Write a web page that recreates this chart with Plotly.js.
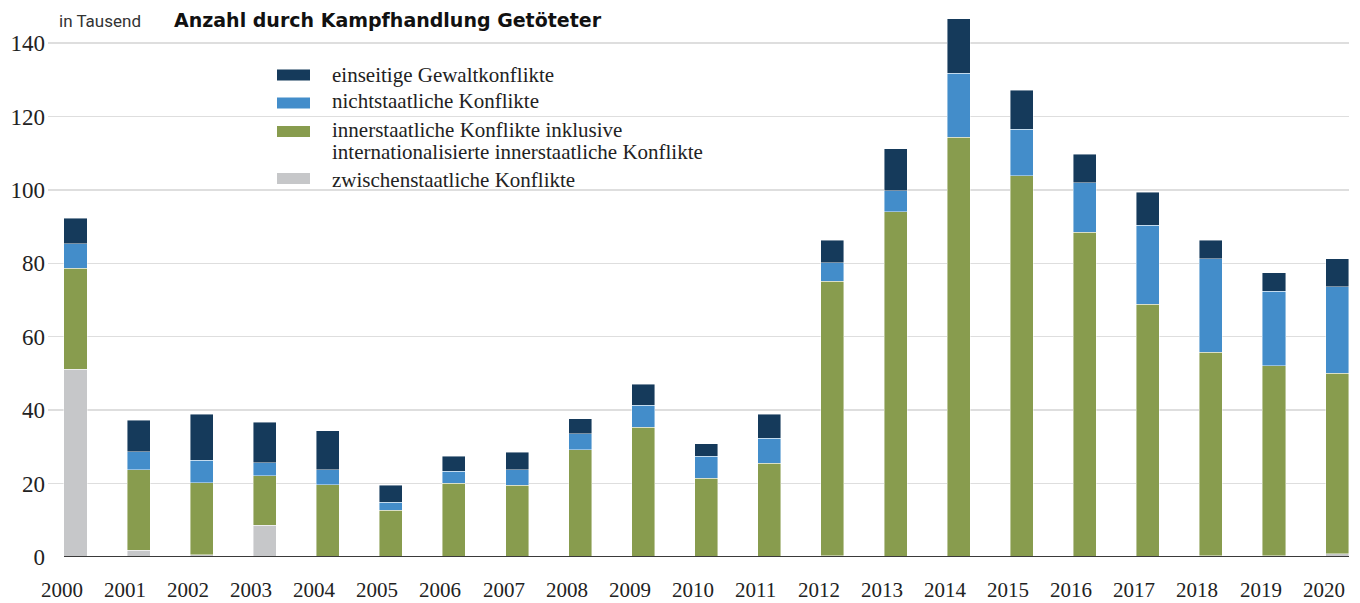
<!DOCTYPE html>
<html>
<head>
<meta charset="utf-8">
<script src="https://cdn.plot.ly/plotly-3.0.1.min.js"></script>
<style>
  html, body { margin: 0; padding: 0; background: #fff; }
  #chart { width: 1360px; height: 603px; }
</style>
</head>
<body>
<div id="chart"></div>
<script>
// Data (in Tausend)
var years = [2000, 2001, 2002, 2003, 2004, 2005, 2006, 2007, 2008, 2009, 2010,
             2011, 2012, 2013, 2014, 2015, 2016, 2017, 2018, 2019, 2020];

var zwischenstaatlich = [51.2, 1.8, 0.6, 8.6, 0.2, 0.1, 0.1, 0.1, 0.1, 0.1, 0.1,
                         0.1, 0.3, 0.1, 0.1, 0.1, 0.1, 0.1, 0.3, 0.3, 0.9];
var innerstaatlich = [27.5, 21.9, 19.6, 13.6, 19.5, 12.6, 20.0, 19.5, 29.1, 35.2, 21.4,
                      25.5, 74.8, 94.0, 114.3, 103.7, 88.4, 68.7, 55.5, 51.8, 49.2];
var nichtstaatlich = [6.6, 5.0, 6.2, 3.5, 4.1, 2.2, 3.2, 4.2, 4.4, 6.1, 6.0,
                      6.8, 5.0, 5.6, 17.4, 12.7, 13.4, 21.6, 25.5, 20.3, 23.5];
var einseitig = [7.0, 8.5, 12.5, 11.0, 10.6, 4.6, 4.2, 4.7, 4.1, 5.6, 3.4,
                 6.5, 6.2, 11.5, 14.8, 10.7, 7.8, 9.0, 5.0, 5.0, 7.7];

var yTicks = [0, 20, 40, 60, 80, 100, 120, 140];

// legend labels, top to bottom (green one is two lines)
var names = ["einseitige Gewaltkonflikte",
             "nichtstaatliche Konflikte",
             "innerstaatliche Konflikte inklusive",
             "zwischenstaatliche Konflikte"];
var greenLine2 = "internationalisierte innerstaatliche Konflikte";
var colors = ["#153a5b", "#438dca", "#889c4e", "#c6c7c9"];

var W = 1360, H = 603;
var mL = 48, mR = 11, mT = 10, mB = 46;
var plotH = H - mT - mB, plotW = W - mL - mR;

// pixel -> paper helpers for the hand placed legend/title
function px(xp) { return (xp - mL) / plotW; }
function py(yp) { return (H - mB - yp) / plotH; }

function barTrace(vals, i) {
  return {
    type: "bar",
    x: years,
    y: vals,
    name: names[i],
    width: 0.365,
    marker: { color: colors[i], line: { color: "rgba(255,255,255,0.55)", width: 0.8 } },
    hoverinfo: "x+y"
  };
}

var data = [
  barTrace(zwischenstaatlich, 3),
  barTrace(innerstaatlich, 2),
  barTrace(nichtstaatlich, 1),
  barTrace(einseitig, 0)
];

var shapes = [{
  type: "line", xref: "paper", yref: "y",
  x0: px(64), x1: 1, y0: 0, y1: 0,
  line: { color: "#3a3a3a", width: 2 }
}];
var annotations = [
  { xref: "paper", yref: "paper", x: px(57), y: py(21), xanchor: "left", yanchor: "middle",
    text: "in Tausend", showarrow: false,
    font: { family: "Roboto", size: 17, color: "#333" } },
  { xref: "paper", yref: "paper", x: px(172), y: py(20), xanchor: "left", yanchor: "middle",
    text: "<b>Anzahl durch Kampfhandlung Getöteter</b>", showarrow: false,
    font: { family: "DejaVu Sans", size: 19, color: "#111" } }
];

// year labels sit a bit left of their bars
years.forEach(function (yr) {
  annotations.push({
    xref: "x", yref: "paper", x: yr, y: py(590), xshift: -13.5,
    xanchor: "center", yanchor: "middle", text: String(yr), showarrow: false,
    font: { family: "Liberation Serif", size: 21, color: "#222" }
  });
});

// legend: swatches + labels
var swatchTop = [69.5, 97.5, 126, 173];
var textY = [74.5, 101.5, 130, 179.5];
for (var i = 0; i < names.length; i++) {
  shapes.push({
    type: "rect", xref: "paper", yref: "paper",
    x0: px(277), x1: px(310), y0: py(swatchTop[i] + 11), y1: py(swatchTop[i]),
    fillcolor: colors[i], line: { width: 0 }
  });
  annotations.push({
    xref: "paper", yref: "paper", x: px(330), y: py(textY[i]),
    xanchor: "left", yanchor: "middle", align: "left",
    text: names[i], showarrow: false,
    font: { family: "Liberation Serif", size: 21, color: "#222" }
  });
}
annotations.push({
  xref: "paper", yref: "paper", x: px(330), y: py(152),
  xanchor: "left", yanchor: "middle", align: "left",
  text: greenLine2, showarrow: false,
  font: { family: "Liberation Serif", size: 21, color: "#222" }
});

var layout = {
  width: W, height: H,
  margin: { l: mL, r: mR, t: mT, b: mB },
  paper_bgcolor: "#fff", plot_bgcolor: "#fff",
  barmode: "stack",
  showlegend: false,
  font: { family: "Liberation Serif", size: 21, color: "#222" },
  xaxis: {
    type: "linear",
    range: [1999.564, 2020.189],
    showticklabels: false,
    showgrid: false, zeroline: false, showline: false,
    ticks: ""
  },
  yaxis: {
    range: [0, 149],
    tickvals: yTicks,
    showgrid: true, gridcolor: "#dedede", gridwidth: 1.5,
    zeroline: false, showline: false,
    ticks: "",
    ticklabelstandoff: 2,
    tickfont: { family: "Liberation Serif", size: 23, color: "#222" }
  },
  shapes: shapes,
  annotations: annotations
};

Plotly.newPlot("chart", data, layout, { displayModeBar: false, staticPlot: true });
</script>
</body>
</html>
